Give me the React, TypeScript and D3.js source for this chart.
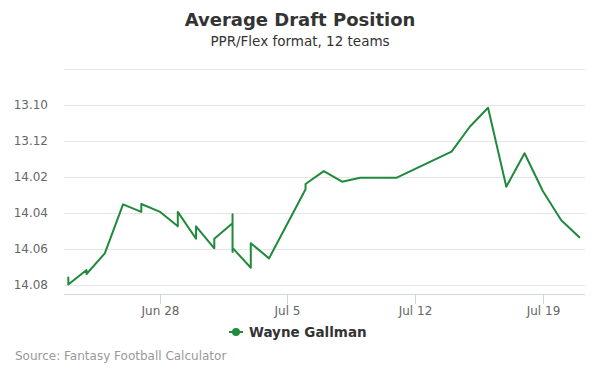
import React from "react";
import * as d3 from "d3";

const dates: string[] = [
  "2018-06-23", "2018-06-23",
  "2018-06-24", "2018-06-24",
  "2018-06-25",
  "2018-06-26",
  "2018-06-27", "2018-06-27",
  "2018-06-28",
  "2018-06-29", "2018-06-29",
  "2018-06-30", "2018-06-30",
  "2018-07-01", "2018-07-01",
  "2018-07-02", "2018-07-02", "2018-07-02", "2018-07-02",
  "2018-07-03", "2018-07-03",
  "2018-07-04",
  "2018-07-06", "2018-07-06",
  "2018-07-07",
  "2018-07-08",
  "2018-07-09",
  "2018-07-11",
  "2018-07-14",
  "2018-07-15",
  "2018-07-16",
  "2018-07-17",
  "2018-07-18",
  "2018-07-19",
  "2018-07-20",
  "2018-07-21",
];

const picks: number[] = [
  163.58, 163.97,
  163.17, 163.39,
  162.24,
  159.52,
  159.94, 159.5,
  159.92,
  160.74, 159.94,
  161.43, 160.74,
  161.96, 161.43,
  160.57, 160.07, 162.17, 161.94,
  163.04, 161.68,
  162.52,
  158.68, 158.39,
  157.67,
  158.26,
  158.04,
  158.04,
  156.59,
  155.21,
  154.15,
  158.54,
  156.68,
  158.78,
  160.39,
  161.35,
];

const yTicks: number[] = [152, 154, 156, 158, 160, 162, 164];
const yTickLabels: string[] = ["", "13.10", "13.12", "14.02", "14.04", "14.06", "14.08"];
const xTicks: string[] = ["2018-06-28", "2018-07-05", "2018-07-12", "2018-07-19"];
const xTickLabels: string[] = ["Jun 28", "Jul 5", "Jul 12", "Jul 19"];

const seriesName = "Wayne Gallman";
const title = "Average Draft Position";
const subtitle = "PPR/Flex format, 12 teams";
const source = "Source: Fantasy Football Calculator";

const W = 600;
const H = 375;
const plotLeft = 64;
const plotRight = 585;
const plotTop = 69;
const plotBottom = 294;
const color = "#1f8a3b";
const font = "'DejaVu Sans', sans-serif";

export default function App() {
  const parse = d3.utcParse("%Y-%m-%d");
  const data = dates.map((d, i) => ({ date: parse(d)!, v: picks[i] }));

  const x = d3
    .scaleUtc()
    .domain([parse("2018-06-23")!, parse("2018-07-21")!])
    .range([68.3, 579.3]);
  const y = d3.scaleLinear().domain([152, 164.5]).range([plotTop, plotBottom]);

  const line = d3
    .line<{ date: Date; v: number }>()
    .x((d) => x(d.date))
    .y((d) => y(d.v));

  return (
    <svg width={W} height={H} style={{ display: "block", position: "absolute", left: 0, top: 0 }} fontFamily={font}>
      <rect width={W} height={H} fill="#fff" />
      <text x={300} y={26} textAnchor="middle" fontSize={18} fontWeight="bold" fill="#333">
        {title}
      </text>
      <text x={300} y={46} textAnchor="middle" fontSize={13.5} fill="#333">
        {subtitle}
      </text>
      {yTicks.map((t, i) => (
        <g key={t}>
          <line x1={plotLeft} x2={plotRight} y1={y(t) + 0.5} y2={y(t) + 0.5} stroke="#e6e6e6" strokeWidth={1} />
          {yTickLabels[i] && (
            <text x={48} y={y(t) + 4} textAnchor="end" fontSize={12} fill="#666">
              {yTickLabels[i]}
            </text>
          )}
        </g>
      ))}
      <line x1={plotLeft} x2={plotRight} y1={plotBottom + 0.5} y2={plotBottom + 0.5} stroke="#ccd6eb" strokeWidth={1} />
      {xTicks.map((t, i) => {
        const px = Math.round(x(parse(t)!)) + 0.5;
        return (
          <g key={t}>
            <line x1={px} x2={px} y1={plotBottom} y2={plotBottom + 10} stroke="#ccd6eb" strokeWidth={1} />
            <text x={px} y={315} textAnchor="middle" fontSize={12} fill="#666">
              {xTickLabels[i]}
            </text>
          </g>
        );
      })}
      <path d={line(data) || ""} fill="none" stroke={color} strokeWidth={2} strokeLinejoin="round" strokeLinecap="round" />
      <g>
        <line x1={229} x2={243} y1={332} y2={332} stroke={color} strokeWidth={2} />
        <circle cx={236} cy={332} r={4} fill={color} />
        <text x={249} y={337} fontSize={13.5} fontWeight="bold" fill="#333">
          {seriesName}
        </text>
      </g>
      <text x={15} y={360} fontSize={12} fill="#999">
        {source}
      </text>
    </svg>
  );
}
